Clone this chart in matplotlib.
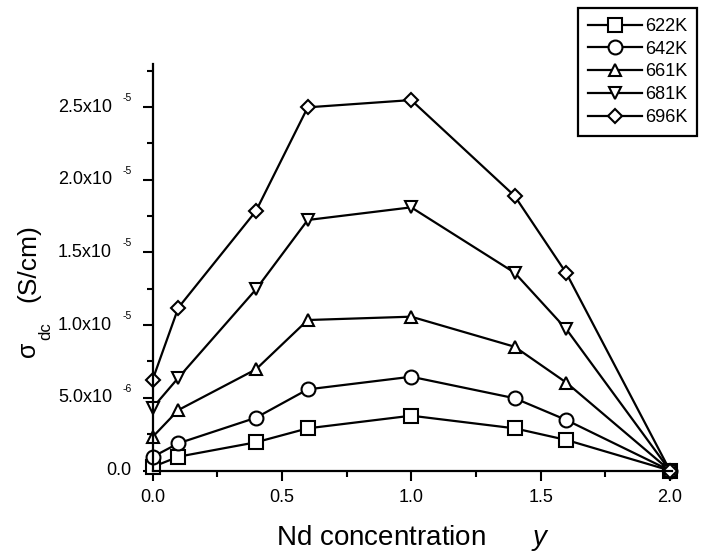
import matplotlib
matplotlib.use("Agg")
import matplotlib.pyplot as plt
from matplotlib.ticker import MultipleLocator
from matplotlib.transforms import offset_copy

plt.rcParams['font.family'] = ['Liberation Sans', 'DejaVu Sans']
plt.rcParams['mathtext.fontset'] = 'custom'
plt.rcParams['mathtext.rm'] = 'Liberation Sans'
plt.rcParams['mathtext.it'] = 'Liberation Sans:italic'

# Nd concentration y
nd_conc = [0.0, 0.1, 0.4, 0.6, 1.0, 1.4, 1.6, 2.0]

# dc conductivity (S/cm) at each temperature
sigma_622K = [0.024e-5, 0.095e-5, 0.194e-5, 0.290e-5, 0.377e-5, 0.290e-5, 0.210e-5, 0.0]
sigma_642K = [0.093e-5, 0.187e-5, 0.363e-5, 0.558e-5, 0.645e-5, 0.497e-5, 0.347e-5, 0.0]
sigma_661K = [0.230e-5, 0.416e-5, 0.696e-5, 1.035e-5, 1.058e-5, 0.851e-5, 0.604e-5, 0.0]
sigma_681K = [0.430e-5, 0.638e-5, 1.246e-5, 1.723e-5, 1.810e-5, 1.360e-5, 0.971e-5, 0.0]
sigma_696K = [0.622e-5, 1.120e-5, 1.785e-5, 2.498e-5, 2.548e-5, 1.888e-5, 1.356e-5, 0.0]

series_labels = ["622K", "642K", "661K", "681K", "696K"]
series_values = [sigma_622K, sigma_642K, sigma_661K, sigma_681K, sigma_696K]
series_markers = ["s", "o", "^", "v", "D"]
series_msize = [9.5, 10, 8.5, 8.5, 7]

x_ticks = [0.0, 0.5, 1.0, 1.5, 2.0]
x_tick_labels = ["0.0", "0.5", "1.0", "1.5", "2.0"]
y_ticks = [0.0, 5e-6, 1e-5, 1.5e-5, 2e-5, 2.5e-5]
y_tick_mantissa = ["0.0", "5.0x10", "1.0x10", "1.5x10", "2.0x10", "2.5x10"]
y_tick_exponent = ["", "-6", "-5", "-5", "-5", "-5"]

W, H = 704, 557
fig = plt.figure(figsize=(W / 100, H / 100), dpi=100)
ax = fig.add_axes([152.5 / W, 1 - 470.5 / H, (672 - 152.5) / W, (470.5 - 64) / H])

for vals, lab, mk, ms in zip(series_values, series_labels, series_markers, series_msize):
    ax.plot(nd_conc, vals, color="black", lw=1.6, marker=mk, ms=ms,
            mfc="white", mec="black", mew=1.5, label=lab, clip_on=False)

ax.set_xlim(0, 2.008)
ax.set_ylim(0, 2.796e-5)

for side in ("top", "right"):
    ax.spines[side].set_visible(False)
for side in ("left", "bottom"):
    ax.spines[side].set_linewidth(1.6)

ax.set_xticks(x_ticks, labels=x_tick_labels)
ax.xaxis.set_minor_locator(MultipleLocator(0.25))
ax.set_yticks(y_ticks)
ax.yaxis.set_minor_locator(MultipleLocator(2.5e-6))
ax.tick_params(which="major", direction="out", length=7.5, width=1.5, labelsize=13, pad=6)
ax.tick_params(which="minor", direction="out", length=4, width=1.5)
ax.tick_params(axis="y", labelleft=False)

# y tick labels in "m.nx10^e" form with a detached exponent
ytrans = ax.get_yaxis_transform()
for v, man, ex in zip(y_ticks, y_tick_mantissa, y_tick_exponent):
    if ex:
        ax.text(0, v, man, transform=offset_copy(ytrans, fig, x=-40.5, y=0, units="dots"),
                ha="right", va="center", fontsize=13)
        ax.text(0, v, ex, transform=offset_copy(ytrans, fig, x=-29.5, y=9, units="dots"),
                ha="left", va="center", fontsize=7.5)
    else:
        ax.text(0, v, man, transform=offset_copy(ytrans, fig, x=-21.5, y=0, units="dots"),
                ha="right", va="center", fontsize=13)

ax.set_xlabel(r"Nd concentration      $\mathit{y}$", fontsize=20, labelpad=12)

# y axis title: sigma with a dropped "dc" subscript, then the unit
fig.text(35 / W, 1 - 357 / H, "σ", rotation=90, rotation_mode="anchor",
         ha="left", va="baseline", fontsize=18)
fig.text(50 / W, 1 - 340 / H, "dc", rotation=90, rotation_mode="anchor",
         ha="left", va="baseline", fontsize=12)
fig.text(35 / W, 1 - 302 / H, "(S/cm)", rotation=90, rotation_mode="anchor",
         ha="left", va="baseline", fontsize=19)

leg = ax.legend(loc="upper right", bbox_to_anchor=(697 / W, 1 - 8 / H),
                bbox_transform=fig.transFigure, borderaxespad=0, fontsize=13,
                handlelength=3.0, handletextpad=0.15, labelspacing=0.32,
                borderpad=0.55, fancybox=False, edgecolor="black", framealpha=1)
leg.get_frame().set_linewidth(1.6)

fig.savefig("out.png", dpi=100)
